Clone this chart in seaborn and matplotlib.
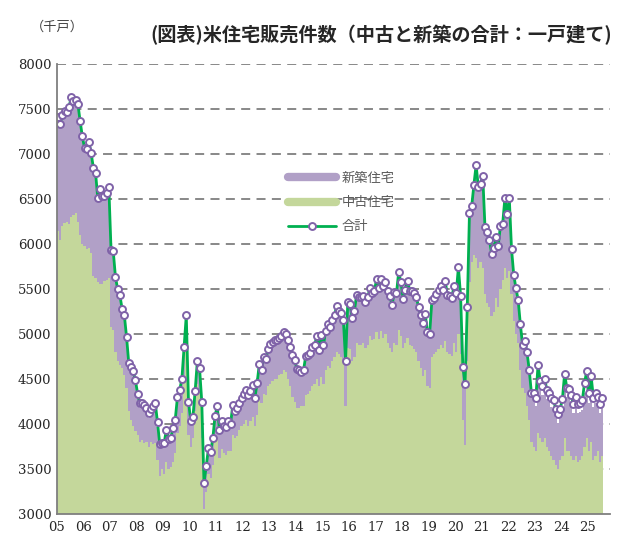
import numpy as np
import pandas as pd
import matplotlib
matplotlib.use("Agg")
import matplotlib.pyplot as plt
from matplotlib.lines import Line2D
import seaborn as sns

# monthly data, Jan 2005 - Jul 2025 (thousand units, SAAR)
total = [
    7410, 7340, 7440, 7480, 7470, 7520, 7640, 7590, 7600, 7560, 7370, 7200,  # 2005
    7070, 7060, 7130, 7010, 6850, 6790, 6510, 6610, 6540, 6530, 6570, 6630,  # 2006
    5930, 5920, 5630, 5500, 5430, 5280, 5210, 4970, 4680, 4640, 4590, 4490,  # 2007
    4340, 4230, 4240, 4210, 4180, 4120, 4170, 4200, 4230, 4020, 3780, 3790,  # 2008
    3790, 3940, 3840, 3850, 3960, 4050, 4300, 4380, 4500, 4860, 5210, 4250,  # 2009
    4040, 4080, 4370, 4700, 4620, 4250, 3345, 3530, 3730, 3690, 3845, 4095,  # 2010
    4200, 3930, 4030, 3980, 3970, 4030, 4000, 4210, 4150, 4180, 4230, 4290,  # 2011
    4330, 4380, 4320, 4370, 4440, 4290, 4455, 4665, 4600, 4750, 4725, 4840,  # 2012
    4890, 4910, 4940, 4930, 4960, 4985, 5020, 5000, 4940, 4860, 4770, 4715,  # 2013
    4615, 4605, 4585, 4600, 4760, 4770, 4790, 4855, 4880, 4975, 4825, 4990,  # 2014
    4875, 5040, 5110, 5075, 5160, 5210, 5315, 5260, 5230, 5160, 4705, 5355,  # 2015
    5330, 5180, 5260, 5440, 5410, 5410, 5420, 5355, 5410, 5510, 5455, 5475,  # 2016
    5610, 5510, 5610, 5530, 5585, 5485, 5420, 5325, 5465, 5455, 5690, 5580,  # 2017
    5395, 5495, 5595, 5480, 5480, 5455, 5410, 5300, 5215, 5120, 5225, 5020,  # 2018
    5005, 5375, 5405, 5445, 5495, 5540, 5495, 5595, 5435, 5420, 5400, 5540,  # 2019
    5455, 5745, 5420, 4640, 4445, 5305, 6350, 6420, 6660, 6880, 6635, 6670,  # 2020
    6760, 6195, 6135, 6050, 5895, 5955, 6085, 5985, 6205, 6225, 6510, 6335,  # 2021
    6510, 5950, 5660, 5510, 5380, 5110, 4880, 4920, 4800, 4605, 4345, 4345,  # 2022
    4295, 4660, 4475, 4425, 4500, 4380, 4350, 4295, 4270, 4170, 4110, 4170,  # 2023
    4280, 4560, 4405, 4395, 4320, 4220, 4305, 4220, 4235, 4265, 4455, 4595,  # 2024
    4345, 4530, 4295, 4345, 4305, 4220, 4290,                                # 2025
]

existing = [
    6150, 6050, 6200, 6230, 6250, 6220, 6300, 6320, 6350, 6250, 6100, 6000,
    5980, 5950, 5960, 5900, 5650, 5620, 5580, 5560, 5560, 5590, 5600, 5620,
    5080, 5050, 4800, 4700, 4660, 4620, 4550, 4400, 4150, 4050, 3980, 3920,
    3880, 3800, 3820, 3790, 3800, 3750, 3800, 3780, 3790, 3600, 3420, 3500,
    3450, 3580, 3500, 3520, 3580, 3680, 3900, 3980, 4120, 4470, 4830, 3880,
    3750, 3850, 4150, 4450, 4350, 3850, 3060, 3250, 3450, 3400, 3550, 3800,
    3850, 3620, 3720, 3680, 3660, 3700, 3700, 3880, 3850, 3870, 3930, 3980,
    4000, 4050, 3980, 4030, 4080, 3980, 4100, 4280, 4230, 4330, 4320, 4420,
    4450, 4480, 4500, 4500, 4550, 4560, 4600, 4580, 4500, 4420, 4300, 4250,
    4180, 4180, 4200, 4200, 4320, 4330, 4370, 4420, 4450, 4500, 4420, 4520,
    4450, 4600, 4650, 4620, 4700, 4750, 4800, 4780, 4750, 4700, 4200, 4850,
    4830, 4700, 4750, 4900, 4880, 4880, 4900, 4850, 4880, 4980, 4930, 4950,
    5020, 4950, 5030, 4960, 5000, 4900, 4850, 4800, 4900, 4880, 5050, 4980,
    4850, 4900, 4960, 4880, 4870, 4840, 4800, 4700, 4620, 4530, 4600, 4420,
    4400, 4750, 4780, 4800, 4830, 4880, 4850, 4920, 4800, 4780, 4760, 4900,
    4800, 5000, 4780, 4050, 3770, 4700, 5580, 5800, 5880, 5850, 5730, 5800,
    5730, 5450, 5350, 5300, 5200, 5250, 5400, 5300, 5500, 5600, 5730, 5620,
    5700, 5450, 5150, 5000, 4900, 4600, 4400, 4350, 4200, 4050, 3800, 3750,
    3700, 3900, 3850, 3800, 3850, 3750, 3700, 3650, 3600, 3550, 3500, 3600,
    3650, 3850, 3700, 3700, 3650, 3600, 3650, 3580, 3600, 3650, 3750, 3850,
    3700, 3800, 3600, 3650, 3700, 3580, 3650,
]

new = [
    1260, 1290, 1240, 1250, 1220, 1300, 1340, 1270, 1250, 1310, 1270, 1200,
    1090, 1110, 1170, 1110, 1200, 1170, 930, 1050, 980, 940, 970, 1010,
    850, 870, 830, 800, 770, 660, 660, 570, 530, 590, 610, 570,
    410, 380, 370, 370, 330, 320, 320, 370, 390, 370, 310, 240,
    300, 320, 300, 300, 340, 330, 350, 360, 330, 340, 330, 320,
    280, 220, 210, 240, 260, 380, 270, 270, 270, 280, 280, 280,
    330, 290, 290, 280, 290, 310, 280, 310, 280, 290, 280, 290,
    320, 320, 330, 330, 350, 300, 340, 370, 360, 400, 390, 400,
    420, 410, 420, 410, 390, 410, 400, 400, 420, 420, 450, 440,
    420, 410, 370, 390, 420, 420, 400, 420, 410, 460, 390, 450,
    410, 430, 450, 440, 450, 450, 500, 470, 470, 450, 490, 490,
    490, 470, 500, 530, 520, 520, 510, 490, 520, 520, 510, 510,
    580, 550, 570, 560, 570, 570, 560, 510, 550, 560, 620, 590,
    530, 580, 620, 590, 600, 600, 600, 590, 580, 570, 610, 590,
    590, 610, 610, 630, 650, 640, 630, 660, 620, 630, 630, 630,
    640, 730, 630, 580, 660, 590, 760, 610, 770, 1000, 880, 850,
    1000, 730, 770, 730, 680, 690, 670, 670, 690, 610, 760, 700,
    790, 490, 500, 500, 470, 500, 470, 550, 580, 540, 530, 580,
    500, 640, 530, 520, 550, 530, 550, 540, 570, 520, 510, 470,
    530, 600, 600, 590, 570, 520, 550, 540, 530, 510, 600, 640,
    540, 620, 590, 590, 500, 540, 540,
]

year_labels = [f"{y:02d}" for y in range(5, 26)]

df = pd.DataFrame({"existing": existing, "new": new, "total": total})
df["pos"] = np.arange(len(df)) + 0.5

sns.set_style("white")
plt.rcParams["font.family"] = ["DejaVu Serif", "Noto Sans CJK JP"]

fig = plt.figure(figsize=(6.18, 5.39), dpi=100)
ax = fig.add_axes([0.092, 0.046, 0.895, 0.835])

green_fill = "#C4D79B"
purple_fill = "#B1A0C7"
line_green = "#00B050"
marker_edge = "#7F62A8"

ax.bar(df["pos"], df["existing"], width=1.0, color=green_fill, linewidth=0, zorder=2)
ax.bar(df["pos"], df["new"], bottom=df["existing"], width=1.0, color=purple_fill,
       linewidth=0, zorder=2)
sns.lineplot(data=df, x="pos", y="total", ax=ax, color=line_green, linewidth=2.0,
             marker="o", markersize=5, markerfacecolor="white",
             markeredgecolor=marker_edge, markeredgewidth=1.4, zorder=4)

ax.set_xlim(0, 250)
ax.set_ylim(3000, 8000)
ax.set_yticks(range(3000, 8001, 500))
ax.set_yticklabels([str(v) for v in range(3000, 8001, 500)])
ax.set_xticks(range(0, 241, 12))
ax.set_xticklabels(year_labels)
for lbl in ax.get_xticklabels() + ax.get_yticklabels():
    lbl.set_fontfamily("DejaVu Serif")
    lbl.set_fontsize(9.5)
ax.set_xlabel("")
ax.set_ylabel("")

for v in range(3500, 8001, 500):
    ax.axhline(v, color="#7F7F7F", linestyle=(0, (5, 3.5)), linewidth=1.3, zorder=1)

for s in ["top", "right"]:
    ax.spines[s].set_visible(False)
for s in ["left", "bottom"]:
    ax.spines[s].set_color("#7F7F7F")
    ax.spines[s].set_linewidth(1.3)
    ax.spines[s].set_zorder(5)
ax.tick_params(axis="x", direction="in", length=4, color="#7F7F7F", width=1.2, pad=5)
ax.tick_params(axis="y", length=0, pad=4)

handles = [
    Line2D([0], [0], color=purple_fill, linewidth=6),
    Line2D([0], [0], color=green_fill, linewidth=6),
    Line2D([0], [0], color=line_green, linewidth=2.0, marker="o", markersize=5,
           markerfacecolor="white", markeredgecolor=marker_edge, markeredgewidth=1.4),
]
ax.legend(handles, ["新築住宅", "中古住宅", "合計"], loc="upper left",
          bbox_to_anchor=(0.447, 0.703), bbox_transform=fig.transFigure,
          frameon=False, handlelength=3.6, labelspacing=0.85, handletextpad=0.45,
          prop={"family": ["Noto Sans CJK JP"], "size": 9.5}, labelcolor="#595959")

fig.text(0.99, 0.935, "(図表)米住宅販売件数（中古と新築の合計：一戸建て)", ha="right",
         va="center", fontsize=13.8, fontweight="bold",
         family=["Noto Sans CJK JP", "DejaVu Sans"])
fig.text(0.093, 0.95, "（千戸）", ha="center", va="center", fontsize=9.5,
         color="#404040", family=["Noto Sans CJK JP", "DejaVu Sans"])

fig.savefig("out.png", dpi=100)
